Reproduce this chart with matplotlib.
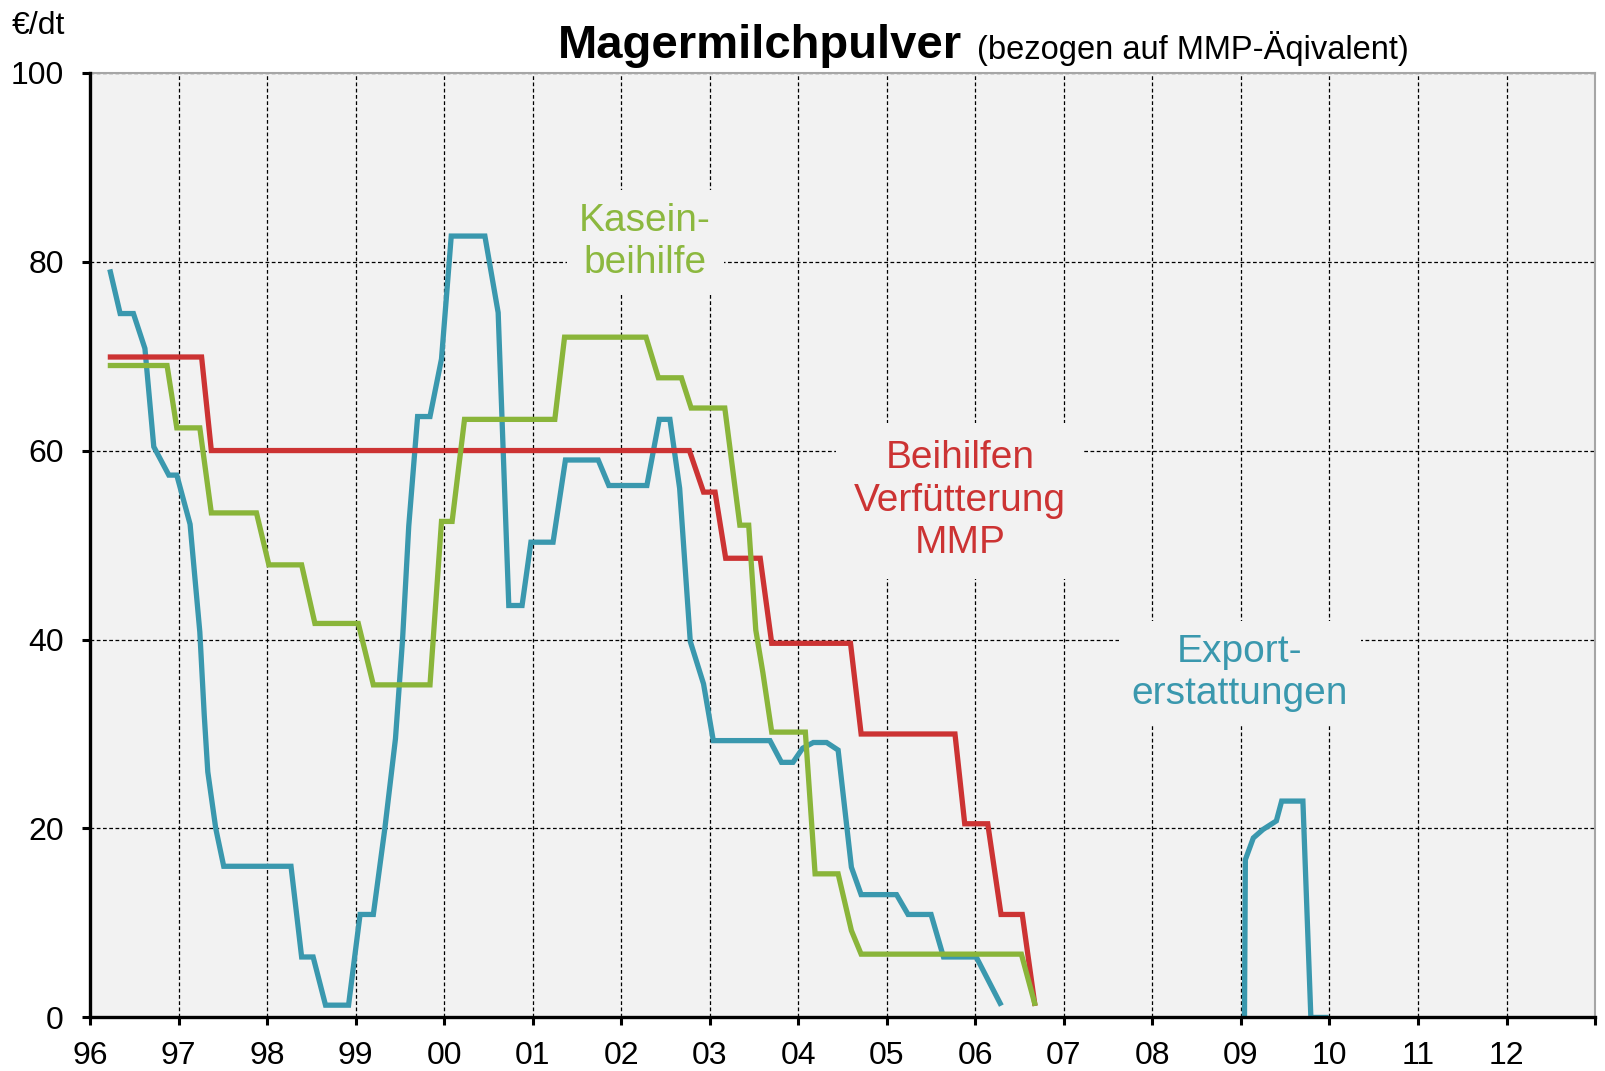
import matplotlib.pyplot as plt

plt.rcParams['font.family'] = ['Liberation Sans', 'DejaVu Sans']

# --- data (x = year, y = EUR/dt) ---
export_x = [1996.23, 1996.34, 1996.49, 1996.62, 1996.72, 1996.89, 1996.98, 1997.13, 1997.18,
            1997.24, 1997.29, 1997.33, 1997.42, 1997.51, 1998.27, 1998.39, 1998.52, 1998.66,
            1998.92, 1999.05, 1999.20, 1999.33, 1999.45, 1999.53, 1999.60, 1999.70, 1999.84,
            1999.97, 2000.08, 2000.46, 2000.61, 2000.73, 2000.88, 2000.98, 2001.23, 2001.37,
            2001.74, 2001.86, 2002.29, 2002.43, 2002.55, 2002.66, 2002.78, 2002.93, 2003.04,
            2003.68, 2003.81, 2003.94, 2004.05, 2004.17, 2004.32, 2004.45, 2004.60, 2004.71,
            2005.11, 2005.24, 2005.50, 2005.64, 2006.01, 2006.28]
export_y = [78.9, 74.5, 74.5, 70.8, 60.4, 57.4, 57.4, 52.2, 47.0,
            40.8, 32.0, 26.0, 20.0, 16.0, 16.0, 6.4, 6.4, 1.3,
            1.3, 10.9, 10.9, 20.0, 29.5, 40.0, 52.0, 63.6, 63.6,
            69.7, 82.7, 82.7, 74.6, 43.6, 43.6, 50.3, 50.3, 59.0,
            59.0, 56.3, 56.3, 63.3, 63.3, 56.0, 39.8, 35.3, 29.3,
            29.3, 27.0, 27.0, 28.5, 29.1, 29.1, 28.3, 15.9, 13.0,
            13.0, 10.9, 10.9, 6.4, 6.4, 1.5]

export2_x = [2009.04, 2009.05, 2009.14, 2009.25, 2009.40, 2009.46, 2009.70, 2009.79, 2009.96]
export2_y = [0.0, 16.7, 19.0, 19.9, 20.8, 22.9, 22.9, 0.0, 0.0]

kasein_x = [1996.23, 1996.87, 1996.98, 1997.24, 1997.37, 1997.88, 1998.02, 1998.39, 1998.54,
            1999.03, 1999.20, 1999.84, 1999.97, 2000.09, 2000.23, 2001.25, 2001.36, 2002.28,
            2002.42, 2002.68, 2002.79, 2003.17, 2003.34, 2003.44, 2003.52, 2003.60, 2003.70,
            2004.08, 2004.19, 2004.45, 2004.60, 2004.71, 2006.52, 2006.67]
kasein_y = [69.0, 69.0, 62.4, 62.4, 53.4, 53.4, 47.9, 47.9, 41.7,
            41.7, 35.2, 35.2, 52.5, 52.5, 63.3, 63.3, 72.0, 72.0,
            67.7, 67.7, 64.5, 64.5, 52.1, 52.1, 41.0, 36.5, 30.2,
            30.2, 15.2, 15.2, 9.2, 6.7, 6.7, 1.5]

futter_x = [1996.23, 1997.26, 1997.37, 2002.77, 2002.93, 2003.06, 2003.18, 2003.57, 2003.70,
            2004.59, 2004.71, 2005.77, 2005.88, 2006.14, 2006.29, 2006.53, 2006.67]
futter_y = [69.9, 69.9, 60.0, 60.0, 55.6, 55.6, 48.6, 48.6, 39.6,
            39.6, 30.0, 30.0, 20.5, 20.5, 10.9, 10.9, 1.5]

years = list(range(1996, 2014))
year_labels = [f"{y % 100:02d}" for y in years[:-1]] + [""]
y_ticks = [0, 20, 40, 60, 80, 100]

blue = '#3a98ae'
green = '#8ab53a'
red = '#cc3333'
bg = '#f2f2f2'

fig = plt.figure(figsize=(16.05, 10.71), dpi=100)
ax = fig.add_axes([0.0561, 0.05, 0.9377, 0.8822])
ax.set_facecolor(bg)

ax.plot(export_x, export_y, color=blue, lw=3.8, solid_joinstyle='miter', zorder=3)
ax.plot(export2_x, export2_y, color=blue, lw=3.8, solid_joinstyle='miter', zorder=3)
ax.plot(futter_x, futter_y, color=red, lw=3.8, solid_joinstyle='miter', zorder=4)
ax.plot(kasein_x, kasein_y, color=green, lw=3.8, solid_joinstyle='miter', zorder=5)

ax.set_xlim(1996, 2013)
ax.set_ylim(0, 100)
ax.set_xticks(years)
ax.set_xticklabels(year_labels)
ax.set_yticks(y_ticks)
ax.tick_params(axis='both', labelsize=23, direction='out', length=6, width=2.2, color='black')
ax.tick_params(axis='y', pad=13)
ax.tick_params(axis='x', pad=11)

ax.grid(True, color='black', linestyle=(0, (3, 2)), linewidth=0.9, zorder=1)
ax.set_axisbelow(True)

for s in ['left', 'bottom']:
    ax.spines[s].set_linewidth(2.4)
    ax.spines[s].set_color('black')
    ax.spines[s].set_zorder(6)
for s in ['top', 'right']:
    ax.spines[s].set_linewidth(1.5)
    ax.spines[s].set_color('#a6a6a6')

# --- series labels ---
box = dict(facecolor=bg, edgecolor='none', pad=9)
ax.text(2002.27, 82.1, "Kasein-\nbeihilfe", color='#8cb83f', fontsize=28, ha='center',
        va='center', linespacing=1.22, bbox=box, zorder=2)
ax.text(2005.83, 54.7, "Beihilfen\nVerfütterung\nMMP", color=red, fontsize=28, ha='center',
        va='center', linespacing=1.22, bbox=dict(facecolor=bg, edgecolor='none', pad=13), zorder=2)
ax.text(2008.99, 36.5, "Export-\nerstattungen", color=blue, fontsize=28, ha='center',
        va='center', linespacing=1.22, bbox=box, zorder=2)

# --- titles ---
fig.text(558 / 1605, 1 - 58.5 / 1071, "Magermilchpulver", fontsize=34, fontweight='bold',
         ha='left', va='baseline')
fig.text(977 / 1605, 1 - 58.5 / 1071, "(bezogen auf MMP-Äqivalent)", fontsize=23.5,
         ha='left', va='baseline')
fig.text(12 / 1605, 1 - 34 / 1071, "€/dt", fontsize=23, ha='left', va='baseline')

fig.savefig('out.png', dpi=100)
